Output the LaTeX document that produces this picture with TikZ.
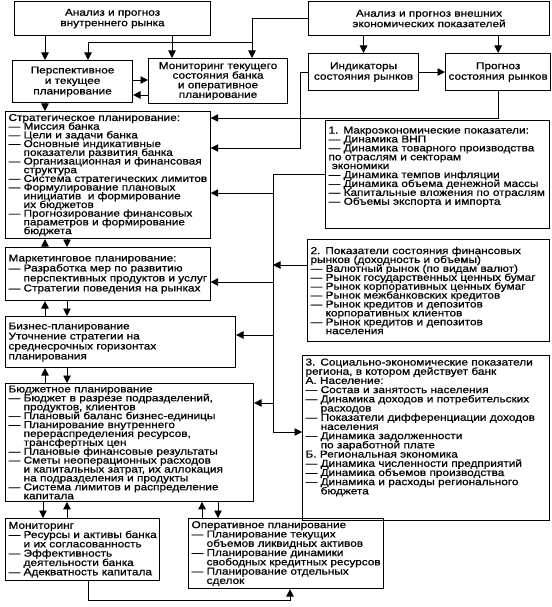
\documentclass[tikz,border=0pt]{standalone}
\usepackage{fontspec}
\setmainfont{Liberation Sans}[FakeStretch=1.18,FakeBold=0.8]
\usetikzlibrary{arrows.meta}
\newcommand{\ind}{\hphantom{— }}
\newcommand{\fs}[1]{\fontsize{10}{#1}\selectfont\lineskiplimit=-10pt}

\begin{document}
\begin{tikzpicture}[x=1pt,y=-1pt,
  box/.style={draw, line width=1.1pt, anchor=north west, inner xsep=3pt, inner ysep=2pt,
    font=\fs{8.9}},
  ctr/.style={box, align=center, font=\fs{10.5}},
  lst/.style={box, align=left},
  arr/.style={-{Triangle[length=7.5pt,width=7.5pt]}, line width=0.8pt}]
\useasboundingbox (0,0) rectangle (551,607);
% Top row
\node[ctr, minimum width=196pt, minimum height=34pt] (A) at (14,1) {Анализ и прогноз\\внутреннего рынка};
\node[ctr, minimum width=241pt, minimum height=34pt] (B) at (308,1) {Анализ и прогноз внешних\\экономических показателей};
\node[ctr, minimum width=120pt, minimum height=42pt] (C) at (12,60) {Перспективное\\и текущее\\планирование};
\node[ctr, minimum width=139pt, minimum height=45pt, font=\fs{9.6}] (D) at (148,58) {Мониторинг текущего\\состояния банка\\и оперативное\\планирование};
\node[ctr, minimum width=110pt, minimum height=37pt] (E) at (308,53) {Индикаторы\\состояния рынков};
\node[ctr, minimum width=104pt, minimum height=37pt] (F) at (445,53) {Прогноз\\состояния рынков};
% Planning levels
\node[lst, minimum width=201pt, minimum height=127pt, font=\fs{8.7}] (G) at (5,111) {Стратегическое планирование:\\
 — Миссия банка\\
 — Цели и задачи банка\\
 — Основные индикативные\\
 \ind показатели развития банка\\
 — Организационная и финансовая\\
 \ind структура\\
 — Система стратегических лимитов\\
 — Формулирование плановых\\
 \ind инициатив\ \ и формирование\\
 \ind их бюджетов\\
 — Прогнозирование финансовых\\
 \ind параметров и формирование\\
 \ind бюджета};
\node[lst, minimum width=200pt, minimum height=53pt, font=\fs{10}] (I) at (5,247) {Маркетинговое планирование:\\
— Разработка мер по развитию\\
\ind перспективных продуктов и услуг\\
— Стратегии поведения на рынках};
\node[lst, text width=224pt, minimum height=51pt, font=\fs{10}] (J) at (5,316) {Бизнес-планирование\\
Уточнение стратегии на\\
среднесрочных горизонтах\\
планирования};
\node[lst, text width=242pt, minimum height=117pt] (L) at (5,383) {Бюджетное планирование\\
— Бюджет в разрезе подразделений,\\
\ind продуктов, клиентов\\
— Плановый баланс бизнес-единицы\\
— Планирование внутреннего\\
\ind перераспределения ресурсов,\\
\ind трансфертных цен\\
— Плановые финансовые результаты\\
— Сметы неоперационных расходов\\
\ind и капитальных затрат, их аллокация\\
\ind на подразделения и продукты\\
— Система лимитов и распределение\\
\ind капитала};
\node[lst, minimum width=152pt, minimum height=62pt, font=\fs{9.3}] (N) at (5,518) {Мониторинг\\
— Ресурсы и активы банка\\
\ind и их согласованность\\
— Эффективность\\
\ind деятельности банка\\
— Адекватность капитала};
\node[lst, minimum width=184pt, minimum height=70pt, font=\fs{9.3}] (O) at (188,518) {Оперативное планирование\\
— Планирование текущих\\
\ind объемов ликвидных активов\\
— Планирование динамики\\
\ind свободных кредитных ресурсов\\
— Планирование отдельных\\
\ind сделок};
% Market indicators
\node[lst, text width=218pt, text height=11pt, text depth=93pt] (H) at (325,120) {1. Макроэкономические показатели:\\
— Динамика ВНП\\
— Динамика товарного производства\\
по отраслям и секторам\\
\ экономики\\
— Динамика темпов инфляции\\
— Динамика объема денежной массы\\
— Капитальные вложения по отраслям\\
— Объемы экспорта и импорта};
\node[lst, text width=236pt, minimum height=102pt] (K) at (307,239) {2. Показатели состояния финансовых\\
рынков (доходность и объемы)\\
— Валютный рынок (по видам валют)\\
— Рынок государственных ценных бумаг\\
— Рынок корпоративных ценных бумаг\\
— Рынок межбанковских кредитов\\
— Рынок кредитов и депозитов\\
\ind корпоративных клиентов\\
— Рынок кредитов и депозитов\\
\ind населения};
\node[lst, text width=241pt, text height=8pt, text depth=153pt, font=\fs{9.2}] (M) at (302,355) {3. Социально-экономические показатели\\
региона, в котором действует банк\\
А. Население:\\
— Состав и занятость населения\\
— Динамика доходов и потребительских\\
\ind расходов\\
— Показатели дифференциации доходов\\
\ind населения\\
— Динамика задолженности\\
\ind по заработной плате\\
Б. Региональная экономика\\
— Динамика численности предприятий\\
— Динамика объемов производства\\
— Динамика и расходы регионального\\
\ind бюджета};
% Top connectors
\draw[arr] (A.south -| 45,0) -- (C.north -| 45,0);
\draw[arr] (A.south -| 172,0) -- (D.north -| 172,0);
\draw[arr] (B.west) -| (D.north -| 252,0);
\draw[arr] (252,42) -| (C.north -| 88,0);
\draw[arr] (B.south -| E.north) -- (E.north);
\draw[arr] (B.south -| F.north) -- (F.north);
\draw[arr] (E.east) -- (F.west);
\draw[arr] (C.east |- 0,80) -- (D.west |- 0,80);
\draw[arr] (D.west |- 0,95) -- (C.east |- 0,95);
\draw[arr] (C.south -| 45,0) -- (G.north -| 45,0);
% Indicators and forecast to strategy
\draw[arr] (F.south) |- (G.east |- 0,118);
\draw[arr] (E.west) -| (300,148) -- (G.east |- 0,148);
% Common line on the right
\draw[arr] (H.west) -| (273,432) -- (M.west |- 0,432);
\draw[arr] (K.west |- 0,265) -- (273,265);
\foreach \y/\n in {193/G,282/I,335/J,403/L}
  \draw[arr] (273,\y) -- (\n.east |- 0,\y);
% Between planning levels
\foreach \hi/\lo in {G/I,I/J,J/L}{
  \draw[arr] (\lo.north -| 45,0) -- (\hi.south -| 45,0);
  \draw[arr] (\hi.south -| 67,0) -- (\lo.north -| 67,0);
}
\draw[arr] (L.south -| 43,0) -- (N.north -| 43,0);
\draw[arr] (N.north -| 67,0) -- (L.south -| 67,0);
\draw[arr] (O.north -| 202,0) -- (L.south -| 202,0);
\draw[arr] (L.south -| 218,0) -- (O.north -| 218,0);
\draw[arr] (N.south -| 88,0) -- (88,600) -| (O.south -| 290,0);
\end{tikzpicture}
\end{document}
